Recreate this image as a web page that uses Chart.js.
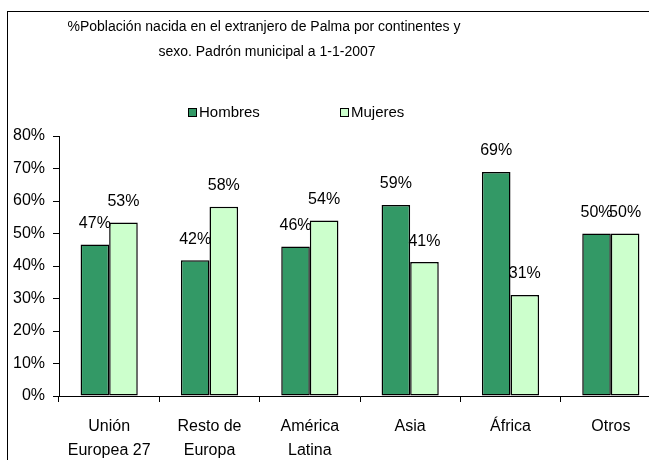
<!DOCTYPE html>
<html>
<head>
<meta charset="utf-8">
<script src="https://cdn.jsdelivr.net/npm/chart.js@4"></script>
<style>
html,body{margin:0;padding:0;background:#fff;overflow:hidden;width:649px;height:460px;}
#frame{position:absolute;left:7px;top:11px;width:700px;height:500px;border:1px solid #000;box-sizing:border-box;}
#c{position:absolute;left:0;top:0;}
</style>
</head>
<body>
<div id="frame"></div>
<canvas id="c" width="680" height="460"></canvas>
<script>
const titleLines = ["%Población nacida en el extranjero de Palma por continentes y", "sexo. Padrón municipal a 1-1-2007"];
const categories = [["Unión","Europea 27"],["Resto de","Europa"],["América","Latina"],"Asia","África","Otros"];
const seriesNames = ["Hombres","Mujeres"];
const hombres = [46.6, 41.8, 46.0, 58.8, 68.9, 50.0];
const mujeres = [53.4, 58.2, 54.0, 41.2, 31.1, 50.0];
const colors = ["#339966","#CCFFCC"];
const FONT = "'Liberation Sans', Arial, sans-serif";

const titleLegendPlugin = {
  id:'titleLegend',
  afterDraw(chart){
    const ctx = chart.ctx;
    ctx.save();
    ctx.fillStyle = '#000';
    ctx.font = '14px ' + FONT;
    ctx.textAlign = 'center';
    ctx.textBaseline = 'middle';
    ctx.fillText(titleLines[0], 264, 27);
    ctx.fillText(titleLines[1], 267, 52);
    const items = [{x:188}, {x:340}];
    ctx.font = '15px ' + FONT;
    ctx.textAlign = 'left';
    items.forEach((it, i) => {
      ctx.fillStyle = colors[i];
      ctx.fillRect(it.x + 0.5, 108.5, 8, 8);
      ctx.strokeStyle = '#000';
      ctx.lineWidth = 1;
      ctx.strokeRect(it.x + 0.5, 108.5, 8, 8);
      ctx.fillStyle = '#000';
      ctx.fillText(seriesNames[i], it.x + 11, 113);
    });
    ctx.restore();
  }
};

const dataLabelPlugin = {
  id:'dataLabels',
  afterDatasetsDraw(chart){
    const ctx = chart.ctx;
    ctx.save();
    ctx.fillStyle = '#000';
    ctx.font = '16px ' + FONT;
    ctx.textAlign = 'center';
    ctx.textBaseline = 'middle';
    chart.data.datasets.forEach((ds, di) => {
      chart.getDatasetMeta(di).data.forEach((bar, i) => {
        ctx.fillText(Math.round(ds.data[i]) + '%', bar.x, bar.y - 21);
      });
    });
    ctx.restore();
  }
};

new Chart(document.getElementById('c'), {
  type:'bar',
  data:{
    labels: categories,
    datasets:[
      {label:seriesNames[0], data:hombres, backgroundColor:colors[0], borderColor:'#000', borderWidth:1.5, borderSkipped:false},
      {label:seriesNames[1], data:mujeres, backgroundColor:colors[1], borderColor:'#000', borderWidth:1.5, borderSkipped:false}
    ]
  },
  options:{
    responsive:false,
    animation:false,
    devicePixelRatio:1,
    layout:{padding:{left:0, top:136, right:19, bottom:0}},
    datasets:{bar:{categoryPercentage:0.57, barPercentage:1.0}},
    plugins:{legend:{display:false}, title:{display:false}, tooltip:{enabled:false}},
    scales:{
      x:{
        offset:true,
        grid:{display:true, drawOnChartArea:false, offset:true, tickLength:6, color:'#000'},
        border:{display:true, color:'#000', width:1},
        ticks:{color:'#000', font:{family:FONT, size:16, lineHeight:1.5}, padding:13, maxRotation:0, autoSkip:false},
        afterFit(s){ s.height = 64; }
      },
      y:{
        min:0, max:80,
        grid:{display:true, drawOnChartArea:false, tickLength:6, color:'#000'},
        border:{display:true, color:'#000', width:1},
        ticks:{stepSize:10, color:'#000', font:{family:FONT, size:16}, padding:8, callback:v=>v+'%'},
        afterFit(s){ s.width = 59; }
      }
    }
  },
  plugins:[titleLegendPlugin, dataLabelPlugin]
});
</script>
</body>
</html>
